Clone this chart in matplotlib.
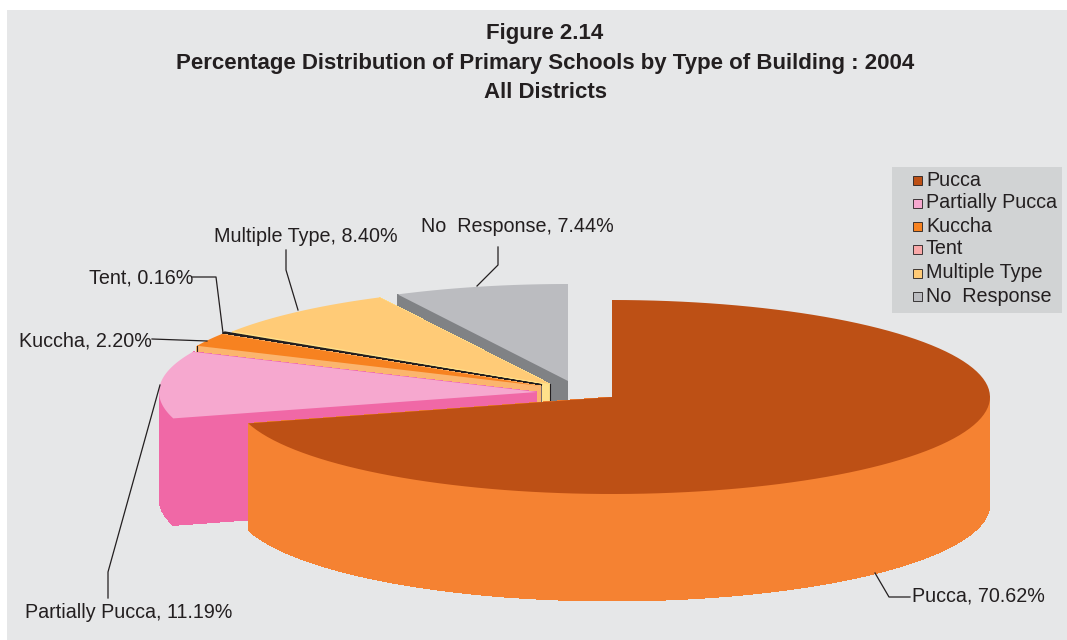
# -*- coding: UTF-8 -*-

import numpy as np
import matplotlib.pyplot as plt
from matplotlib.collections import PolyCollection
from matplotlib.patches import Polygon, Rectangle

categories = ['Pucca', 'Partially Pucca', 'Kuccha', 'Tent', 'Multiple Type', 'No  Response']
values = [70.62, 11.19, 2.20, 0.16, 8.40, 7.44]
value_labels = ['70.62%', '11.19%', '2.20%', '0.16%', '8.40%', '7.44%']

top_colors = ['#BD5015', '#F6A8CF', '#F78220', '#F9A8A8', '#FFCB77', '#BBBCC0']
wall_colors = ['#F58232', '#F068A6', '#FBB56E', '#7A6A6A', '#FFE08A', '#808285']
legend_colors = ['#BD5015', '#F6A8CF', '#F78220', '#F9A8A8', '#FFCB77', '#BBBCC0']

# apex of each slice in the picture, the pie is exploded by hand
apex = [(612, 397), (537, 392), (541, 386), (542, 385), (550, 384), (568, 381)]
rx = 378.
ry = 97.
depth = 107.
ink = '#231F20'

plt.rcParams['font.family'] = ['Liberation Sans', 'DejaVu Sans']

fig = plt.figure(figsize=(10.67, 6.4), dpi=100)
ax = fig.add_axes([0, 0, 1, 1])
ax.set_xlim(0, 1067)
ax.set_ylim(640, 0)
ax.axis('off')
ax.add_patch(Rectangle((7, 10), 1060, 630, color='#E6E7E8', lw=0, zorder=0))


def arc(c, t1, t2):
    t = np.radians(np.linspace(t1, t2, 120))
    return np.column_stack((c[0] + rx * np.sin(t), c[1] - ry * np.cos(t)))


def slice_3d(i, t1, t2, z, edge=None):
    c = np.array(apex[i], dtype=float)
    rim = arc(c, t1, t2)
    down = np.array([0, depth])
    # outer wall (front part only), the two cut walls, then the top face
    quads = [[rim[k], rim[k + 1], rim[k + 1] + down, rim[k] + down] for k in range(len(rim) - 1)
             if rim[k][1] >= c[1] or rim[k + 1][1] >= c[1]]
    for p in (rim[0], rim[-1]):
        quads.append([c, p, p + down, c + down])
    ax.add_collection(PolyCollection(quads, facecolors=wall_colors[i], edgecolors='none',
                                     linewidths=0, antialiaseds=False, zorder=z))
    ax.add_patch(Polygon(np.vstack((c, rim)), closed=True, facecolor=top_colors[i],
                         edgecolor=edge if edge else 'none', lw=1.2 if edge else 0, zorder=z))
    return c, rim


bounds = np.concatenate(([0.], np.cumsum(values))) / np.sum(values) * 360.
edges = [None, None, None, ink, None, None]
draw_order = [5, 4, 3, 2, 1, 0]
for n, i in enumerate(draw_order):
    c, rim = slice_3d(i, bounds[i], bounds[i + 1], n + 1, edges[i])
    if categories[i] == 'Multiple Type':
        ax.plot([c[0], c[0]], [c[1], c[1] + depth], color=ink, lw=0.8, zorder=n + 1)
    if categories[i] == 'Kuccha':
        ax.plot([rim[0][0], rim[0][0]], [rim[0][1], rim[0][1] + depth], color=ink, lw=0.8, zorder=n + 1)

# title
ax.text(545, 33, 'Figure 2.14', ha='center', va='center', fontsize=16, fontweight='bold', color=ink)
ax.text(545, 63, 'Percentage Distribution of Primary Schools by Type of Building : 2004',
        ha='center', va='center', fontsize=16, fontweight='bold', color=ink)
ax.text(545, 93, 'All Districts', ha='center', va='center', fontsize=16, fontweight='bold', color=ink)

# slice labels and leader lines
label_pos = [(912, 596), (25, 612), (19, 341), (89, 278), (214, 237), (421, 227)]
leaders = [
    [(875, 573), (889, 597), (910, 597)],
    [(160, 385), (108, 572), (108, 598)],
    [(152, 339), (207, 341)],
    [(192, 277), (216, 277), (223, 333)],
    [(286, 250), (286, 270), (298, 310)],
    [(498, 247), (498, 265), (477, 286)],
]
for i in range(len(categories)):
    ax.text(label_pos[i][0], label_pos[i][1], categories[i] + ', ' + value_labels[i],
            ha='left', va='center', fontsize=14.2, color=ink, zorder=10)
    xs, ys = zip(*leaders[i])
    ax.plot(xs, ys, color=ink, lw=0.9, zorder=9)

# legend
ax.add_patch(Rectangle((892, 167), 170, 146, color='#D1D3D4', lw=0, zorder=10))
legend_y = [179, 202, 225, 248, 272, 295]
for i in range(len(categories)):
    ax.add_patch(Rectangle((913, legend_y[i] - 3), 9, 9, facecolor=legend_colors[i],
                           edgecolor=ink, lw=0.6, zorder=11))
    ax.text(926, legend_y[i] + 1, categories[i], ha='left', va='center', fontsize=14.2, color=ink, zorder=11)

plt.savefig('out.png', dpi=100)
